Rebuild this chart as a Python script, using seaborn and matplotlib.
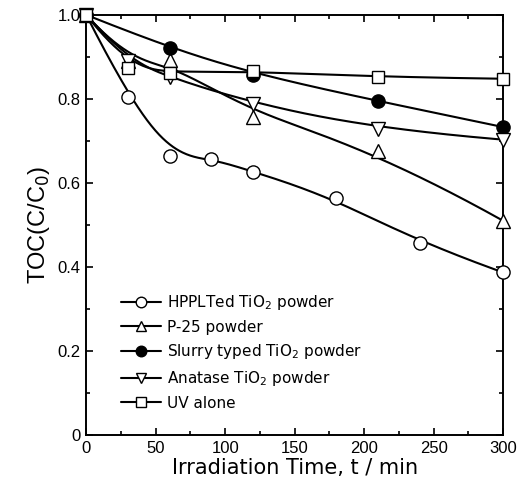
import numpy as np
import pandas as pd
import matplotlib
matplotlib.use("Agg")
import matplotlib.pyplot as plt
import seaborn as sns
from matplotlib.lines import Line2D
from matplotlib.ticker import MultipleLocator

# datos
t_hppl = [0, 30, 60, 90, 120, 180, 240, 300]
toc_hppl = [1.0, 0.805, 0.665, 0.658, 0.627, 0.563, 0.458, 0.387]

t_p25 = [0, 30, 60, 120, 210, 300]
toc_p25 = [1.0, 0.89, 0.892, 0.758, 0.676, 0.510]

t_slurry = [0, 60, 120, 210, 300]
toc_slurry = [1.0, 0.921, 0.857, 0.795, 0.733]

t_anat = [0, 30, 60, 120, 210, 300]
toc_anat = [1.0, 0.89, 0.852, 0.788, 0.728, 0.703]

t_uv = [0, 30, 60, 120, 210, 300]
toc_uv = [1.0, 0.874, 0.862, 0.867, 0.852, 0.848]

labels = ["HPPLTed TiO$_2$ powder", "P-25 powder", "Slurry typed TiO$_2$ powder",
          "Anatase TiO$_2$ powder", "UV alone"]
markers = ["o", "^", "o", "v", "s"]
fills = ["white", "white", "black", "white", "white"]
sizes = [9.5, 9.5, 9.5, 9.5, 8.5]


def bspline(x, y, n=300):
    # B-spline cubico con los puntos como puntos de control (como Origin)
    P = np.column_stack([x, y]).astype(float)
    k = len(P)
    knots = np.concatenate([[0, 0, 0], np.linspace(0, 1, k - 2), [1, 1, 1]])
    u = np.linspace(0, 1 - 1e-9, n)
    N = np.zeros((n, len(knots) - 1))
    for i in range(len(knots) - 1):
        N[:, i] = (u >= knots[i]) & (u < knots[i + 1])
    for d in range(1, 4):
        Nn = np.zeros((n, len(knots) - 1 - d))
        for i in range(len(knots) - 1 - d):
            a = knots[i + d] - knots[i]
            b = knots[i + d + 1] - knots[i + 1]
            t1 = (u - knots[i]) / a * N[:, i] if a > 0 else 0
            t2 = (knots[i + d + 1] - u) / b * N[:, i + 1] if b > 0 else 0
            Nn[:, i] = t1 + t2
        N = Nn
    C = N @ P
    C[-1] = P[-1]
    return C[:, 0], C[:, 1]


series = [(t_hppl, toc_hppl), (t_p25, toc_p25), (t_slurry, toc_slurry),
          (t_anat, toc_anat), (t_uv, toc_uv)]

sns.set_style("ticks", {"axes.edgecolor": "black", "xtick.color": "black",
                        "ytick.color": "black", "text.color": "black",
                        "axes.labelcolor": "black"})
plt.rcParams["font.family"] = ["Liberation Sans", "DejaVu Sans"]

fig = plt.figure(figsize=(5.29, 4.96), dpi=100)
ax = fig.add_axes([0.163, 0.123, 0.788, 0.847])

for (t, v) in series:
    xs, ys = bspline(t, v)
    sns.lineplot(x=xs, y=ys, ax=ax, color="black", lw=1.5, sort=False, zorder=2)

for (t, v), m, f, s in zip(series, markers, fills, sizes):
    ax.plot(t, v, ls="none", marker=m, ms=s, mfc=f, mec="black", mew=1.0, zorder=3,
            clip_on=False)

ax.set_xlim(0, 300)
ax.set_ylim(0, 1.0)
ax.xaxis.set_major_locator(MultipleLocator(50))
ax.xaxis.set_minor_locator(MultipleLocator(25))
ax.yaxis.set_minor_locator(MultipleLocator(0.1))
ax.set_yticks([0, 0.2, 0.4, 0.6, 0.8, 1.0])
ax.set_yticklabels(["0", "0.2", "0.4", "0.6", "0.8", "1.0"])
ax.tick_params(which="both", direction="in", top=True, right=True, labelsize=12,
               width=1.2, pad=4)
ax.tick_params(which="major", length=5)
ax.tick_params(which="minor", length=3)
for sp in ax.spines.values():
    sp.set_linewidth(1.4)

ax.set_xlabel("Irradiation Time, t / min", fontsize=15, family="DejaVu Sans", labelpad=2)
ax.set_ylabel("TOC(C/C$_0$)", fontsize=17, labelpad=4)

handles = [Line2D([], [], color="black", lw=1.5, marker=m, ms=s * 0.8, mfc=f, mec="black")
           for m, f, s in zip(markers, fills, sizes)]
ax.legend(handles, labels, loc="lower left", bbox_to_anchor=(0.05, 0.025), frameon=False,
          prop={"family": "DejaVu Sans", "size": 11}, handlelength=2.6,
          handletextpad=0.4, labelspacing=0.5)

fig.savefig("out.png", dpi=100)
